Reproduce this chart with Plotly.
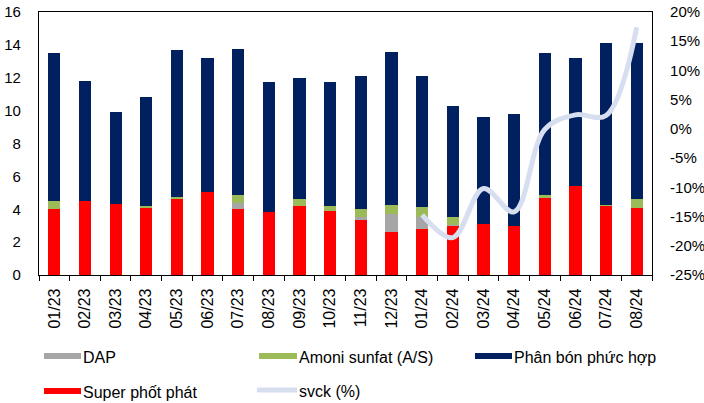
import plotly.graph_objects as go

months = ["01/23", "02/23", "03/23", "04/23", "05/23", "06/23", "07/23", "08/23", "09/23", "10/23",
          "11/23", "12/23", "01/24", "02/24", "03/24", "04/24", "05/24", "06/24", "07/24", "08/24"]
super_phot_phat = [4.0, 4.5, 4.34, 4.12, 4.64, 5.05, 4.0, 3.83, 4.22, 3.89,
                   3.39, 2.62, 2.78, 3.0, 3.1, 3.0, 4.71, 5.44, 4.22, 4.1]
dap = [0, 0, 0, 0, 0, 0, 0.36, 0, 0, 0,
       0.12, 1.09, 0.73, 0.04, 0, 0, 0, 0, 0, 0]
amoni_sunfat = [0.48, 0, 0, 0.06, 0.09, 0, 0.51, 0, 0.38, 0.31,
                0.51, 0.55, 0.63, 0.5, 0, 0, 0.16, 0, 0.04, 0.52]
phan_bon_phuc_hop = [9.0, 7.3, 5.56, 6.67, 8.94, 8.13, 8.86, 7.91, 7.37, 7.54,
                     8.08, 9.29, 7.96, 6.74, 6.53, 6.8, 8.62, 7.79, 9.84, 9.48]
svck_months = ["01/24", "02/24", "03/24", "04/24", "05/24", "06/24", "07/24", "08/24"]
svck = [-14.7, -18.6, -10.2, -14.2, -0.1, 2.4, 2.3, 17.4]

left_ticks = list(range(0, 17, 2))
right_ticks = list(range(-25, 21, 5))

C_RED = "#FF0000"
C_GREY = "#A6A6A6"
C_GREEN = "#9BBB59"
C_NAVY = "#002060"
C_LINE = "#D6DEF0"

FONT = "Liberation Sans, Arial, sans-serif"

fig = go.Figure()
for name, vals, col in [("Super phốt phát", super_phot_phat, C_RED),
                        ("DAP", dap, C_GREY),
                        ("Amoni sunfat (A/S)", amoni_sunfat, C_GREEN),
                        ("Phân bón phức hợp", phan_bon_phuc_hop, C_NAVY)]:
    fig.add_trace(go.Bar(x=months, y=vals, name=name, marker=dict(color=col, line=dict(width=0)),
                         showlegend=False))

fig.add_trace(go.Scatter(x=svck_months, y=svck, name="svck (%)", yaxis="y2", mode="lines",
                         line=dict(color=C_LINE, width=5, shape="spline", smoothing=1.0),
                         showlegend=False))

W, H = 704, 403
L, R, T, B = 39, 652, 12, 275

fig.update_layout(
    width=W, height=H, autosize=False,
    margin=dict(l=L, r=W - R, t=T, b=H - B, pad=0, autoexpand=False),
    barmode="stack", bargap=0.6,
    plot_bgcolor="white", paper_bgcolor="white",
    font=dict(family=FONT, size=15, color="black"),
    xaxis=dict(type="category", categoryorder="array", categoryarray=months,
               tickangle=-90, tickfont=dict(size=16), tickson="boundaries",
               ticks="outside", ticklen=5, tickcolor="black", tickwidth=1,
               showline=True, linecolor="black", linewidth=1.2, mirror=True,
               showgrid=False, range=[-0.5, 19.5], ticklabelstandoff=6, automargin=False),
    yaxis=dict(range=[0, 16], tickvals=left_ticks, ticks="", showline=True,
               linecolor="black", linewidth=1.2, showgrid=False, zeroline=False,
               tickfont=dict(size=15), ticklabelstandoff=14, automargin=False),
    yaxis2=dict(range=[-25, 20], tickvals=right_ticks,
                ticktext=[f"{v}%" for v in right_ticks], overlaying="y", side="right",
                ticks="", showline=True, linecolor="black", linewidth=1.2, showgrid=False,
                zeroline=False, tickfont=dict(size=15), ticklabelstandoff=14, automargin=False),
)

# custom legend (paper coordinates from pixel positions)
def px_x(x):
    return (x - L) / (R - L)

def px_y(y):
    return (B - y) / (B - T)

legend_items = [
    ("DAP", C_GREY, 44, 81, 356, 6),
    ("Amoni sunfat (A/S)", C_GREEN, 259, 297, 356, 6),
    ("Phân bón phức hợp", C_NAVY, 475, 512, 356, 6),
    ("Super phốt phát", C_RED, 44, 81, 391, 6),
    ("svck (%)", C_LINE, 257, 297, 390, 5),
]
for label, col, x0, x1, yc, h in legend_items:
    fig.add_shape(type="rect", xref="paper", yref="paper",
                  x0=px_x(x0), x1=px_x(x1), y0=px_y(yc + h / 2), y1=px_y(yc - h / 2),
                  fillcolor=col, line=dict(width=0))
    fig.add_annotation(xref="paper", yref="paper", x=px_x(x1 + 1), y=px_y(yc + 1),
                       text=label, showarrow=False, xanchor="left", yanchor="middle",
                       borderpad=0,
                       font=dict(family=FONT, size=16, color="black"))

fig.write_html("out.html", config={"displayModeBar": False},
               post_script="document.body.style.margin='0';document.body.style.padding='0';")
